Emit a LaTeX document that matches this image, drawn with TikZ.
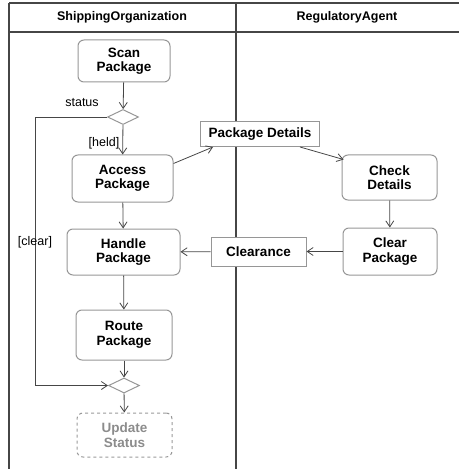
\documentclass[tikz,border=0pt]{standalone}
\usepackage{fontspec}
\setmainfont{Liberation Sans}
\usetikzlibrary{arrows.meta,shapes.geometric}
\definecolor{ln}{RGB}{70,70,70}
\definecolor{bx}{RGB}{150,150,150}
\tikzset{
  act/.style={draw=bx,line width=1pt,rounded corners=6pt,align=center,font=\fontsize{13.5}{14.5}\selectfont\bfseries,inner sep=0pt},
  obj/.style={draw=bx,line width=1pt,align=center,font=\fontsize{13.5}{14.5}\selectfont\bfseries,inner sep=0pt},
  pend/.style={act,dashed,draw=gray!80,text=gray!90},
  dec/.style={diamond,draw=bx,line width=1pt,minimum width=31pt,minimum height=15pt,inner sep=0pt,aspect=2},
  flow/.style={draw=ln,line width=0.8pt,-{Straight Barb[length=6pt,width=8pt]}},
  lane/.style={draw=ln,line width=1.2pt},
  head/.style={font=\fontsize{12.5}{13.5}\selectfont\bfseries},
  lbl/.style={font=\fontsize{12.5}{13.5}\selectfont}
}
\begin{document}
\begin{tikzpicture}[x=1pt,y=-1pt]
\useasboundingbox (0,0) rectangle (459,470);
% swimlanes
\draw[lane] (9,3) -- (459,3);
\draw[lane] (9,32) -- (459,32);
\draw[lane] (9,3) -- (9,469);
\draw[lane] (236,3) -- (236,469);
\node[head] (h1) at (122,17) {ShippingOrganization};
\node[head] (h2) at (347,17) {RegulatoryAgent};
% nodes
\node[act,minimum width=92pt,minimum height=42pt] (scan) at (124,61) {Scan\\Package};
\node[dec] (d1) at (123,117) {};
\node[act,minimum width=101pt,minimum height=47pt] (access) at (122.5,178.5) {Access\\Package};
\node[obj,fill=white,minimum width=119pt,minimum height=25pt] (pd) at (260,134) {Package Details};
\node[act,minimum width=95pt,minimum height=45pt] (check) at (389.5,177.5) {Check\\Details};
\node[act,minimum width=113pt,minimum height=46pt] (handle) at (123.5,252) {Handle\\Package};
\node[obj,fill=white,minimum width=95pt,minimum height=29pt] (clr) at (258.5,251.5) {Clearance};
\node[act,minimum width=94pt,minimum height=47pt] (clear) at (390,251.5) {Clear\\Package};
\node[act,minimum width=96pt,minimum height=50pt] (route) at (124,335) {Route\\Package};
\node[dec] (d2) at (124,385.5) {};
\node[pend,minimum width=95pt,minimum height=44pt] (upd) at (124.5,435) {Update\\Status};
\coordinate (c1) at (35,117);
\coordinate (c2) at (35,385.5);
% flows
\draw[flow] (scan) -- (d1);
\draw[flow] (d1) -- (access);
\draw[flow] (d1.west) -- (c1) -- (c2) -- (d2.west);
\draw[flow] ([yshift=15pt]access.east) -- ([xshift=13pt]pd.south west);
\draw[flow] ([xshift=-20pt]pd.south east) -- ([xshift=2pt,yshift=-5pt]check.north west);
\draw[flow] (check) -- (clear);
\draw[flow] (clear) -- (clr);
\draw[flow] (clr) -- (handle);
\draw[flow] (access) -- (handle);
\draw[flow] (handle) -- (route);
\draw[flow] (route) -- (d2);
\draw[flow] (d2) -- (upd);
% labels
\node[lbl] (ls) at (82,103) {status};
\node[lbl] (lh) at (104,143) {[held]};
\node[lbl] (lc) at (35,242) {[clear]};
\end{tikzpicture}
\end{document}
